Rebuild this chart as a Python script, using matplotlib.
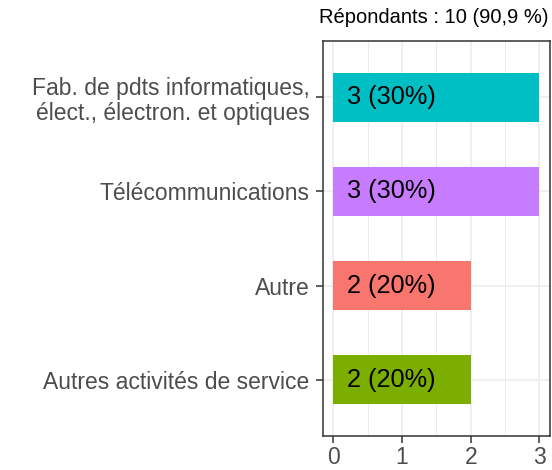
import matplotlib
matplotlib.use("Agg")
import matplotlib.pyplot as plt

plt.rcParams['font.family'] = ['Liberation Sans', 'DejaVu Sans']

categories = ["Autres activités de service", "Autre", "Télécommunications",
              "Fab. de pdts informatiques,\nélect., électron. et optiques"]
counts = [2, 2, 3, 3]
labels = ["2 (20%)", "2 (20%)", "3 (30%)", "3 (30%)"]
colors = ["#7CAE00", "#F8766D", "#C77CFF", "#00BFC4"]
title = "Répondants : 10 (90,9 %)"

fig = plt.figure(figsize=(5.52, 4.70), dpi=100)
ax = fig.add_axes([0.585, 0.0723, 0.411, 0.8405])

pos = list(range(1, len(categories) + 1))
ax.barh(pos, counts, height=0.52, color=colors, zorder=3)
for p, c, lab in zip(pos, counts, labels):
    ax.text(0.2, p, lab, ha='left', va='center', fontsize=18.3, color='black', zorder=4)

ax.set_xlim(-0.15, 3.15)
ax.set_ylim(0.4, 4.6)
ax.set_xticks([0, 1, 2, 3])
ax.set_xticks([0.5, 1.5, 2.5], minor=True)
ax.set_yticks(pos)
ax.set_yticklabels(categories, ha='right', linespacing=1.1)
ax.tick_params(axis='both', which='major', labelsize=16.5, labelcolor='#4D4D4D',
               color='#333333', length=5, width=1.1, pad=4.5)
ax.tick_params(axis='x', which='major', pad=2.5)
ax.tick_params(axis='x', which='minor', length=0)
ax.grid(True, which='major', color='#EBEBEB', linewidth=1.1, zorder=0)
ax.grid(True, which='minor', axis='x', color='#EBEBEB', linewidth=0.7, zorder=0)
for s in ax.spines.values():
    s.set_color('#333333')
    s.set_linewidth(1.1)

fig.text(0.993, 0.963, title, ha='right', va='center', fontsize=14.5, color='black')

fig.savefig("out.png", dpi=100)
